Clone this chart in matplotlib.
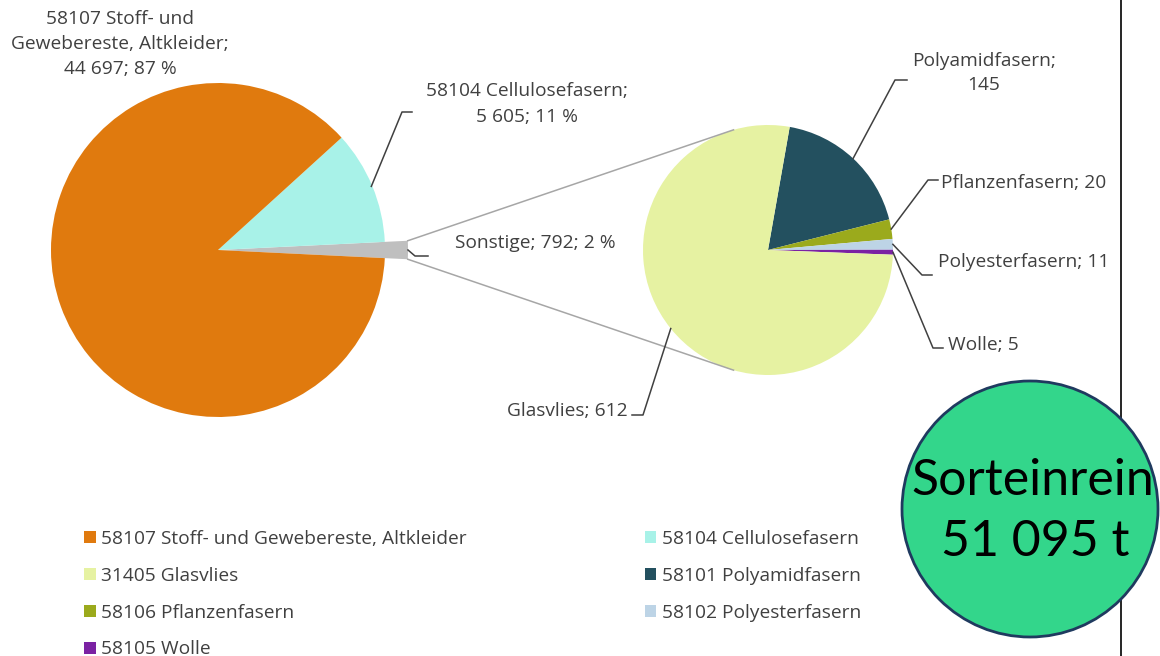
import numpy as np
import matplotlib.pyplot as plt
from matplotlib.patches import Circle

W, H = 1160, 656

# left pie: main groups
main_codes = ['Sonstige', '58104 Cellulosefasern', '58107 Stoff- und Gewebereste, Altkleider']
main_vals = [792, 5605, 44697]
main_cols = ['#BFBFBF', '#A8F2E8', '#E07A0E']

# right pie: breakdown of "Sonstige"
sub_names = ['Polyamidfasern', 'Pflanzenfasern', 'Polyesterfasern', 'Wolle', 'Glasvlies']
sub_codes = ['58101', '58106', '58102', '58105', '31405']
sub_vals = [145, 20, 11, 5, 612]
sub_cols = ['#23505F', '#9BAA1C', '#BDD4E6', '#7B22A3', '#E6F2A2']

total_txt = '51 095 t'

plt.rcParams['font.family'] = ['Open Sans', 'DejaVu Sans']
txtcol = '#404040'
fs = 13.8


def num(v):
    return f'{v:,}'.replace(',', ' ')


def pct(v, tot):
    return f'{round(100 * v / tot)} %'


def on_circle(c, r, ang):
    a = np.deg2rad(ang)
    return c[0] + r * np.cos(a), c[1] + r * np.sin(a)


fig = plt.figure(figsize=(W / 100, H / 100), dpi=100)
ax = fig.add_axes([0, 0, 1, 1])

c1, r1 = (218, H - 250), 167
c2, r2 = (768, H - 250), 125

tot1 = sum(main_vals)
start1 = -main_vals[0] / tot1 * 180
w1, _ = ax.pie(main_vals, colors=main_cols, center=c1, radius=r1,
               startangle=start1, counterclock=True,
               wedgeprops=dict(linewidth=0))
w1[0].set_radius(190)

w2, _ = ax.pie(sub_vals, colors=sub_cols, center=c2, radius=r2,
               startangle=80, counterclock=False,
               wedgeprops=dict(linewidth=0))

# connector lines between the pies
g = w1[0]
for a_from, a_to in [(g.theta2, 106), (g.theta1, 254)]:
    p0 = on_circle(c1, 190, a_from)
    p1 = on_circle(c2, r2, a_to)
    ax.plot([p0[0], p1[0]], [p0[1], p1[1]], color='#A6A6A6', lw=1.1, zorder=1)


def mid(w):
    return (w.theta1 + w.theta2) / 2


def leader(c, r, w, elbow, end):
    p0 = on_circle(c, r, mid(w))
    ax.plot([p0[0], elbow[0], end[0]], [p0[1], H - elbow[1], H - end[1]],
            color=txtcol, lw=1.1, zorder=3)


# labels left pie
ax.text(120, H - 44, f'58107 Stoff- und\nGewebereste, Altkleider;\n{num(main_vals[2])}; {pct(main_vals[2], tot1)}',
        ha='center', va='center', fontsize=fs, color=txtcol, linespacing=1.5)
leader(c1, r1 - 1, w1[1], (402, 112), (412, 112))
ax.text(527, H - 104, f'{main_codes[1]};\n{num(main_vals[1])}; {pct(main_vals[1], tot1)}',
        ha='center', va='center', fontsize=fs, color=txtcol, linespacing=1.5)
leader(c1, 190, w1[0], (415, 256), (428, 256))
ax.text(455, H - 243, f'{main_codes[0]}; {num(main_vals[0])}; {pct(main_vals[0], tot1)}',
        ha='left', va='center', fontsize=fs, color=txtcol)

# labels right pie
leader(c2, r2, w2[0], (895, 80), (907, 80))
ax.text(984, H - 73, f'{sub_names[0]};\n{sub_vals[0]}', ha='center', va='center',
        fontsize=fs, color=txtcol, linespacing=1.5)
leader(c2, r2, w2[1], (928, 180), (938, 180))
ax.text(941, H - 183, f'{sub_names[1]}; {sub_vals[1]}', ha='left', va='center',
        fontsize=fs, color=txtcol)
leader(c2, r2, w2[2], (922, 275), (932, 275))
ax.text(938, H - 262, f'{sub_names[2]}; {sub_vals[2]}', ha='left', va='center',
        fontsize=fs, color=txtcol)
leader(c2, r2, w2[3], (933, 348), (943, 348))
ax.text(948, H - 345, f'{sub_names[3]}; {sub_vals[3]}', ha='left', va='center',
        fontsize=fs, color=txtcol)
leader(c2, r2, w2[4], (643, 415), (632, 415))
ax.text(628, H - 411, f'{sub_names[4]}; {sub_vals[4]}', ha='right', va='center',
        fontsize=fs, color=txtcol)

# legend, row order: stoff, cellulose / glas, polyamid / pflanzen, polyester / wolle
handles = [w1[2], w2[4], w2[1], w2[3], w1[1], w2[0], w2[2]]
labels = [main_codes[2],
          f'{sub_codes[4]} {sub_names[4]}',
          f'{sub_codes[1]} {sub_names[1]}',
          f'{sub_codes[3]} {sub_names[3]}',
          main_codes[1],
          f'{sub_codes[0]} {sub_names[0]}',
          f'{sub_codes[2]} {sub_names[2]}']
leg = ax.legend(handles, labels, ncol=2, loc='upper left',
                bbox_to_anchor=(84 / W, 1 - 530 / H), frameon=False,
                fontsize=fs, handlelength=0.6, handleheight=0.6,
                handletextpad=0.28, labelspacing=0.98, columnspacing=9.3,
                borderpad=0, borderaxespad=0)
for t in leg.get_texts():
    t.set_color(txtcol)

# page border line and the badge
ax.plot([1121, 1121], [0, H], color='black', lw=1.2, zorder=4)
ax.add_patch(Circle((1030, H - 509), 128, facecolor='#33D68B',
                    edgecolor='#1F3A5F', lw=2, zorder=5))
ax.text(1033, H - 481, 'Sorteinrein', ha='center', va='center', fontsize=36,
        family=['Lato', 'DejaVu Sans'], color='black', zorder=6)
ax.text(1035, H - 542, total_txt, ha='center', va='center', fontsize=36,
        family=['Lato', 'DejaVu Sans'], color='black', zorder=6)

ax.set_xlim(0, W)
ax.set_ylim(0, H)
ax.set_aspect('auto')
ax.axis('off')

fig.savefig('out.png', dpi=100)
